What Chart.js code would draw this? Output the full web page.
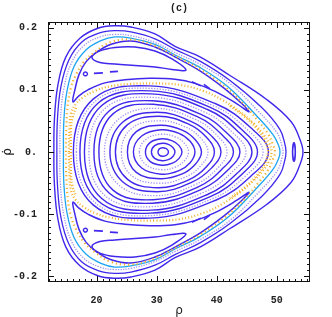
<!DOCTYPE html>
<html>
<head>
<meta charset="utf-8">
<script src="https://cdn.jsdelivr.net/npm/chart.js@4.4.1/dist/chart.umd.min.js"></script>
<style>
  html, body { margin: 0; padding: 0; background: #fff; }
</style>
</head>
<body>
<canvas id="poincare" width="332" height="317"></canvas>
<script>
// axis ticks
const xTicks = [20, 30, 40, 50];
const yTicks = [-0.2, -0.1, 0, 0.1, 0.2];

// regular orbits round the centre, upper half only, from the left crossing to the right crossing
const solidRings = [
  [[30.22, 0], [30.45, 0.005], [31.01, 0.0069], [31.51, 0.0058], [31.83, 0.0033], [31.97, 0]],
  [[29.13, 0], [29.67, 0.0102], [30.96, 0.0141], [32.05, 0.0119], [32.75, 0.0068], [33.05, 0]],
  [[28.13, 0], [28.95, 0.0154], [30.9, 0.0213], [32.63, 0.0179], [33.74, 0.0102], [34.22, 0]],
  [[26.13, 0], [27.51, 0.0258], [30.8, 0.0358], [33.72, 0.03], [35.58, 0.0172], [36.38, 0]],
  [[25.13, 0], [26.61, 0.0327], [30.63, 0.043], [34.26, 0.0353], [36.44, 0.0198], [37.47, 0]],
  [[23.13, 0], [25.11, 0.0436], [30.26, 0.0574], [35.34, 0.0448], [38.26, 0.0241], [39.63, 0]],
  [[22.22, 0], [24.43, 0.0485], [30.08, 0.0638], [35.88, 0.0485], [39.17, 0.0255], [40.72, 0]],
  [[20.38, 0], [22.73, 0.0613], [29.45, 0.0767], [36.93, 0.056], [40.8, 0.0284], [42.8, 0]],
  [[19.55, 0], [22.08, 0.0658], [29.33, 0.0823], [37.47, 0.0601], [41.7, 0.0304], [43.88, 0]],
  [[17.97, 0], [20.85, 0.0748], [29.09, 0.0935], [38.47, 0.0683], [43.36, 0.0346], [45.88, 0]],
  [[17.22, 0], [20.26, 0.0787], [28.98, 0.0983], [38.93, 0.0718], [44.12, 0.0364], [46.8, 0]],
  [[16.13, 0], [19.42, 0.085], [28.81, 0.1063], [39.84, 0.0776], [45.65, 0.0393], [48.63, 0]]
];
const dottedRings = [
  [[27.13, 0], [28.23, 0.0206], [30.85, 0.0285], [33.18, 0.024], [34.66, 0.0137], [35.3, 0]],
  [[24.13, 0], [25.86, 0.0382], [30.5, 0.0502], [34.8, 0.0402], [37.35, 0.0221], [38.55, 0]],
  [[21.3, 0], [23.74, 0.0534], [29.88, 0.0702], [36.38, 0.0527], [40.01, 0.0274], [41.72, 0]],
  [[18.72, 0], [21.43, 0.0703], [29.2, 0.0879], [37.97, 0.0642], [42.53, 0.0325], [44.88, 0]],
  [[16.63, 0], [19.81, 0.0819], [28.89, 0.1023], [39.38, 0.0747], [44.88, 0.0379], [47.72, 0]]
];

// outer orbits, upper half
const outerOrbit1 = [[12.88, 0], [12.97, 0.052], [13.55, 0.108], [14.88, 0.153], [17.22, 0.183], [20.22, 0.199],
  [23.05, 0.203], [25.72, 0.201], [29.72, 0.19], [33.05, 0.17], [37.22, 0.153], [42.22, 0.123],
  [48.38, 0.084], [52.38, 0.049], [53.88, 0.02], [54.38, 0]];
const outerOrbit2 = [[13.38, 0], [13.47, 0.052], [14.05, 0.105], [15.38, 0.148], [17.55, 0.177], [20.38, 0.191],
  [23.05, 0.195], [25.72, 0.193], [29.72, 0.182], [33.05, 0.165], [37.22, 0.146], [42.22, 0.115],
  [47.55, 0.071], [50.55, 0.036], [51.38, 0.012], [51.55, 0]];
const outerOrbit3 = [[13.88, 0], [13.97, 0.052], [14.55, 0.102], [15.8, 0.143], [17.88, 0.171], [20.55, 0.185],
  [23.05, 0.189], [25.72, 0.187], [29.72, 0.176], [33.05, 0.16], [37.22, 0.141], [42.22, 0.11],
  [46.88, 0.066], [50.05, 0.031], [50.88, 0.01], [51.05, 0]];
const cyanOrbit = [[14.47, 0], [14.55, 0.052], [15.05, 0.097], [16.22, 0.137], [18.22, 0.164], [20.72, 0.179],
  [23.05, 0.185], [25.72, 0.183], [29.72, 0.173], [33.05, 0.156], [37.22, 0.136], [41.88, 0.105],
  [46.38, 0.061], [49.38, 0.028], [50.38, 0.009], [50.55, 0]];

// island of the upper lobe (the lower one is its mirror), closed loops
const islandLobe = [[16.05, 0.0807], [16.38, 0.0999], [17.05, 0.124], [18.22, 0.1449], [20.05, 0.1609],
  [22.55, 0.1737], [25.72, 0.1785], [29.72, 0.1689], [33.05, 0.1528], [37.22, 0.1304], [41.38, 0.1015],
  [44.22, 0.0775], [45.38, 0.0646], [43.38, 0.0775], [39.72, 0.0975], [36.38, 0.1103], [33.05, 0.1168],
  [28.88, 0.1184], [24.72, 0.116], [21.38, 0.1111], [18.55, 0.0999], [17.05, 0.0903]];
const islandCore = [[19.22, 0.152], [20.55, 0.1625], [23.05, 0.1681], [26.38, 0.1689], [29.72, 0.1625],
  [32.55, 0.1496], [34.88, 0.132], [32.55, 0.1328], [29.72, 0.1368], [26.38, 0.1392], [23.05, 0.1416],
  [20.55, 0.144]];
const islandSmall = [[17.8, 0.1256], [18.13, 0.1288], [18.47, 0.1256], [18.13, 0.1224]];
const islandDashes = [
  [[19.55, 0.1264], [21.05, 0.1272]],
  [[22.22, 0.1288], [23.55, 0.1296]],
  [[35.88, 0.1128], [37.38, 0.1063]],
  [[37.88, 0.1087], [38.88, 0.1015]]
];
// small island at the right end, upper half
const rightIsland = [[52.65, 0], [52.88, 0.015], [53.1, 0]];

// chaotic layer
const chaosInner = [[15.38, 0], [15.47, 0.0358], [15.72, 0.0614], [16.55, 0.0775], [17.88, 0.0887], [19.72, 0.0983],
  [22.22, 0.1055], [25.55, 0.1095], [29.72, 0.1103], [33.88, 0.1079], [37.72, 0.0983], [40.88, 0.0839],
  [43.88, 0.0646], [46.22, 0.0454], [47.72, 0.0294], [48.72, 0.0149], [49.13, 0]];
const chaosOuter = [[14.88, 0], [14.97, 0.0438], [15.22, 0.0775], [15.72, 0.1031], [16.55, 0.124], [17.88, 0.1448],
  [19.72, 0.1609], [22.22, 0.1761], [25.72, 0.1809], [29.72, 0.1708], [33.05, 0.1545], [37.22, 0.1331],
  [41.38, 0.1047], [44.72, 0.0751], [46.88, 0.0502], [48.55, 0.0294], [49.38, 0.0117], [49.72, 0]];
const chaosRight = [[42.22, 0.0743], [44.72, 0.0566], [46.72, 0.0374], [48.05, 0.0181], [48.55, 0]];
const chaosLeft = [[16.55, 0.0711], [15.97, 0.0551], [15.72, 0.0358], [15.72, 0]];

const DARK = '#4029ec';
const LAVENDER = '#a393f5';
const CYAN = '#1ea4f2';
const ORANGE = '#f5b12a';

const mirror = pts => pts.map(([x, y]) => [x, -y]);
// full orbit from an upper half that starts and ends on the axis
const fromHalf = half => half.concat(mirror(half.slice(1, -1)).reverse());
// open arc from an upper piece that ends on the axis
const arcFromHalf = half => half.concat(mirror(half.slice(0, -1)).reverse());
const toXY = pts => pts.map(([x, y]) => ({ x, y }));

// closed loop: repeat the neighbours at both ends so the spline joins smoothly, hide the extra segments
function loopSet(loop, color, width, dash) {
  const data = toXY([loop[loop.length - 1], ...loop, loop[0], loop[1]]);
  const last = data.length - 1;
  return {
    data, showLine: true, borderColor: color, borderWidth: width, borderDash: dash || [],
    pointRadius: 0, tension: 0.4, fill: false,
    segment: {
      borderColor: c => (c.p0DataIndex === 0 || c.p1DataIndex === last) ? 'rgba(0,0,0,0)' : undefined
    }
  };
}
function arcSet(pts, color, width, dash) {
  return {
    data: toXY(pts), showLine: true, borderColor: color, borderWidth: width, borderDash: dash || [],
    pointRadius: 0, tension: 0.4, fill: false
  };
}

const datasets = [];
// chaotic sea first so the orbits sit on top
[chaosInner, chaosOuter].forEach((h, i) =>
  datasets.push(loopSet(fromHalf(h), ORANGE, 2.2, i ? [1.2, 3] : [1, 2.2])));
[chaosRight, chaosLeft].forEach(h => datasets.push(arcSet(arcFromHalf(h), ORANGE, 2.4, [1, 2])));

dottedRings.forEach(h => datasets.push(loopSet(fromHalf(h), LAVENDER, 1.3, [1.3, 1.5])));
datasets.push(loopSet(fromHalf(outerOrbit3), LAVENDER, 1.3, [1.3, 1.3]));
datasets.push(loopSet(fromHalf(cyanOrbit), CYAN, 1.3));
solidRings.forEach(h => datasets.push(loopSet(fromHalf(h), DARK, 1.4)));
datasets.push(loopSet(fromHalf(outerOrbit1), DARK, 1.4));
datasets.push(loopSet(fromHalf(outerOrbit2), DARK, 1.3));
datasets.push(loopSet(fromHalf(rightIsland), DARK, 1.6));

[islandLobe, islandCore, islandSmall].forEach(loop => {
  datasets.push(loopSet(loop, DARK, 1.5));
  datasets.push(loopSet(mirror(loop), DARK, 1.5));
});
islandDashes.forEach(d => {
  datasets.push(arcSet(d, DARK, 1.6));
  datasets.push(arcSet(mirror(d), DARK, 1.6));
});

// frame with inward ticks on all four sides
const frameTicks = {
  id: 'frameTicks',
  afterDatasetsDraw(chart) {
    const { ctx, chartArea: a, scales: { x, y } } = chart;
    ctx.save();
    ctx.strokeStyle = '#111';
    ctx.lineWidth = 1;
    ctx.strokeRect(a.left + 0.5, a.top + 0.5, a.right - a.left - 1, a.bottom - a.top - 1);
    ctx.beginPath();
    for (let v = Math.ceil(x.min); v <= x.max; v++) {
      const p = Math.round(x.getPixelForValue(v)) + 0.5;
      const len = v % 10 === 0 ? 6 : 3;
      ctx.moveTo(p, a.bottom); ctx.lineTo(p, a.bottom - len);
      ctx.moveTo(p, a.top); ctx.lineTo(p, a.top + len);
    }
    for (let k = Math.ceil(y.min * 100); k <= y.max * 100; k++) {
      const p = Math.round(y.getPixelForValue(k / 100)) + 0.5;
      const len = k % 10 === 0 ? 6 : 3;
      ctx.moveTo(a.left, p); ctx.lineTo(a.left + len, p);
      ctx.moveTo(a.right, p); ctx.lineTo(a.right - len, p);
    }
    ctx.stroke();
    ctx.restore();
  }
};

const tickFont = { family: 'Liberation Mono', size: 10, weight: 'bold', lineHeight: 1.2 };

new Chart(document.getElementById('poincare'), {
  type: 'scatter',
  data: { datasets },
  options: {
    responsive: false,
    animation: false,
    events: [],
    layout: { padding: { left: 0, right: 22, top: 0, bottom: 0 } },
    plugins: {
      legend: { display: false },
      tooltip: { enabled: false },
      title: {
        display: true,
        text: '(c)',
        fullSize: false,
        color: '#222',
        font: tickFont,
        padding: { top: 2.5, bottom: 7.5 }
      }
    },
    scales: {
      x: {
        type: 'linear',
        min: 11.9,
        max: 55.55,
        grid: { display: false },
        border: { display: false },
        afterBuildTicks: s => { s.ticks = xTicks.map(v => ({ value: v })); },
        afterFit: s => { s.height = 35; },
        ticks: { font: tickFont, color: '#222', padding: 4, maxRotation: 0, autoSkip: false },
        title: {
          display: true,
          text: 'ρ',
          color: '#222',
          font: { family: 'DejaVu Sans', size: 12, lineHeight: 1 },
          padding: { top: 0, bottom: 0 }
        }
      },
      y: {
        type: 'linear',
        min: -0.209,
        max: 0.209,
        grid: { display: false },
        border: { display: false },
        afterBuildTicks: s => { s.ticks = yTicks.map(v => ({ value: v })); },
        afterFit: s => { s.width = 48; },
        ticks: {
          font: tickFont, color: '#222', padding: 3, autoSkip: false,
          callback: v => v === 0 ? '0.' : v.toFixed(1)
        },
        title: {
          display: true,
          text: '\u03C1\u0307',
          color: '#222',
          font: { family: 'DejaVu Sans', size: 12, lineHeight: 1 },
          padding: { top: 2, bottom: 0 }
        }
      }
    }
  },
  plugins: [frameTicks]
});
</script>
</body>
</html>
